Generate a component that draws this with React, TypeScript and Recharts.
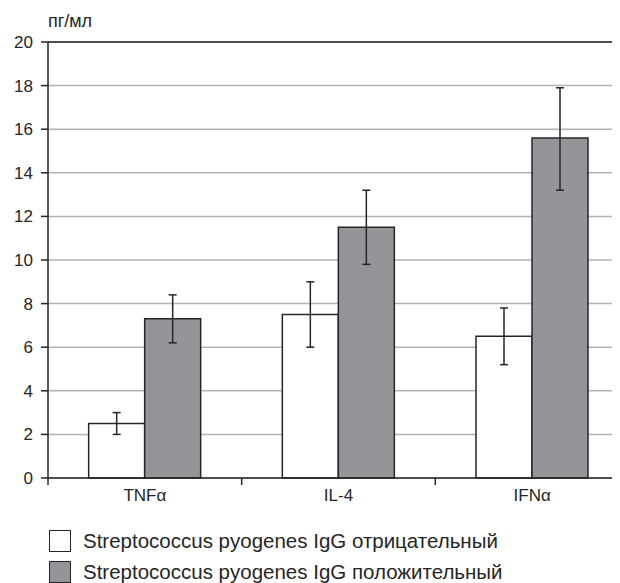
import {
  BarChart,
  Bar,
  XAxis,
  YAxis,
  CartesianGrid,
  ErrorBar,
  ReferenceLine,
} from "recharts";

const categories = ["TNFα", "IL-4", "IFNα"];
const negative = [2.5, 7.5, 6.5];
const negativeLow = [2.0, 6.0, 5.2];
const negativeHigh = [3.0, 9.0, 7.8];
const positive = [7.3, 11.5, 15.6];
const positiveLow = [6.2, 9.8, 13.2];
const positiveHigh = [8.4, 13.2, 17.9];
const yTicks = [0, 2, 4, 6, 8, 10, 12, 14, 16, 18, 20];
const seriesNames = [
  "Streptococcus pyogenes IgG отрицательный",
  "Streptococcus pyogenes IgG положительный",
];
const unitLabel = "пг/мл";

const data = categories.map((name, i) => ({
  name,
  neg: negative[i],
  negErr: [negative[i] - negativeLow[i], negativeHigh[i] - negative[i]],
  pos: positive[i],
  posErr: [positive[i] - positiveLow[i], positiveHigh[i] - positive[i]],
}));

const INK = "#262626";
const GREY = "#939598";
const FONT = "'Liberation Sans', Arial, sans-serif";

const CHART_W = 629;
const Y_AXIS_W = 48;
const BAND = (CHART_W - Y_AXIS_W) / categories.length;

function CategoryTick(props: any) {
  const { x, y, payload, index } = props;
  const half = BAND / 2;
  return (
    <g>
      <line x1={x - half} y1={y} x2={x - half} y2={y + 7} stroke={INK} strokeWidth={1.5} />
      {index === categories.length - 1 && (
        <line x1={x + half} y1={y} x2={x + half} y2={y + 7} stroke={INK} strokeWidth={1.5} />
      )}
      <text x={x} y={y + 23} textAnchor="middle" fontSize={17} fill={INK} fontFamily={FONT}>
        {payload.value}
      </text>
    </g>
  );
}

function LegendBox() {
  const fills = ["#ffffff", GREY];
  return (
    <div
      style={{
        position: "absolute",
        left: 49,
        top: 525,
        fontFamily: FONT,
        fontSize: 20.5,
        color: INK,
      }}
    >
      {seriesNames.map((n, i) => (
        <div key={n} style={{ display: "flex", alignItems: "center", height: 31 }}>
          <span
            style={{
              width: 22,
              height: 22,
              boxSizing: "border-box",
              border: `1.5px solid ${INK}`,
              background: fills[i],
              marginRight: 12,
              display: "inline-block",
            }}
          />
          <span>{n}</span>
        </div>
      ))}
    </div>
  );
}

export default function App() {
  return (
    <div
      style={{
        position: "relative",
        margin: "-8px 0 0 -8px",
        width: 620,
        height: 583,
        overflow: "hidden",
        background: "#fff",
      }}
    >
      <BarChart
        width={CHART_W}
        height={583}
        data={data}
        margin={{ top: 42, right: 0, left: 0, bottom: 75 }}
        barCategoryGap="21%"
        barGap={0}
      >
        <CartesianGrid vertical={false} stroke="#b3b3b3" strokeWidth={1.5} />
        <XAxis
          dataKey="name"
          height={30}
          tickSize={0}
          tickMargin={0}
          tickLine={false}
          axisLine={{ stroke: INK, strokeWidth: 1.5 }}
          tick={<CategoryTick />}
          interval={0}
        />
        <YAxis
          width={Y_AXIS_W}
          domain={[0, 20]}
          ticks={yTicks}
          interval={0}
          tickSize={7}
          tickMargin={8}
          tick={{ fill: INK, fontSize: 17, fontFamily: FONT }}
          tickLine={{ stroke: INK, strokeWidth: 1.5 }}
          axisLine={{ stroke: INK, strokeWidth: 1.5 }}
          label={{
            value: unitLabel,
            position: "top",
            dx: 46,
            dy: -10,
            fontSize: 18,
            fill: INK,
            fontFamily: FONT,
          }}
        />
        <ReferenceLine y={20} stroke={INK} strokeWidth={1.5} />
        <Bar
          dataKey="neg"
          name={seriesNames[0]}
          fill="#ffffff"
          stroke={INK}
          strokeWidth={1.5}
          isAnimationActive={false}
        >
          <ErrorBar dataKey="negErr" width={4} stroke={INK} strokeWidth={1.5} />
        </Bar>
        <Bar
          dataKey="pos"
          name={seriesNames[1]}
          fill={GREY}
          stroke={INK}
          strokeWidth={1.5}
          isAnimationActive={false}
        >
          <ErrorBar dataKey="posErr" width={4} stroke={INK} strokeWidth={1.5} />
        </Bar>
      </BarChart>
      <LegendBox />
    </div>
  );
}
